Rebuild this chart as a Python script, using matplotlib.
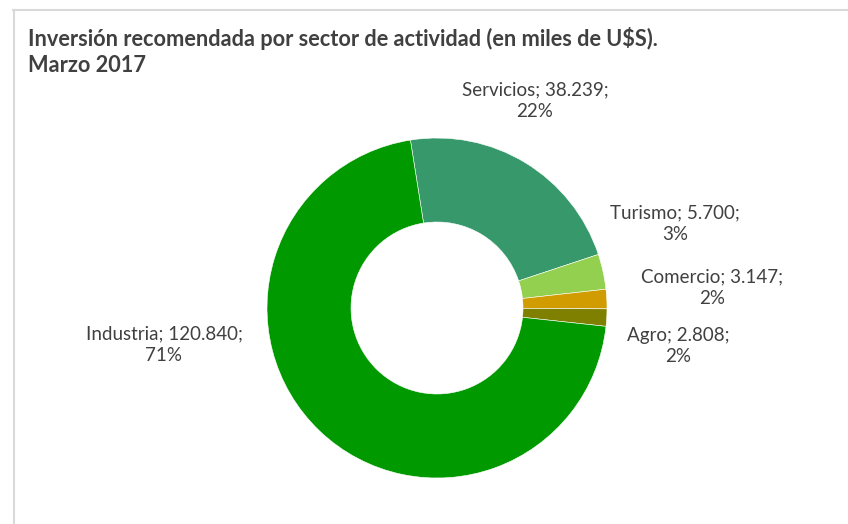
import matplotlib
matplotlib.use("Agg")
import matplotlib.pyplot as plt
from matplotlib.lines import Line2D

# data (miles de U$S), in drawing order clockwise from the top
sectores = ["Servicios", "Turismo", "Comercio", "Agro", "Industria"]
valores = [38239, 5700, 3147, 2808, 120840]
colores = ["#37996B", "#94D050", "#D09C00", "#808000", "#009900"]

titulo = "Inversión recomendada por sector de actividad (en miles de U$S).\nMarzo 2017"

# label centers in pixel coords (top-left origin)
pos_etiquetas = {
    "Servicios": (535, 101),
    "Turismo": (675, 224),
    "Comercio": (712, 288),
    "Agro": (678, 346),
    "Industria": (164, 345),
}

W, H = 848, 524
plt.rcParams['font.family'] = ['Lato', 'DejaVu Sans']

fig = plt.figure(figsize=(W / 100, H / 100), dpi=100)
ax = fig.add_axes([0, 0, 1, 1])

cx, cy, R = 437, 308, 170
ax.pie(valores, colors=colores, startangle=99, counterclock=False,
       radius=R, center=(cx, H - cy),
       wedgeprops=dict(width=R - 86, linewidth=0.4, edgecolor="white"))

ax.set_xlim(0, W)
ax.set_ylim(0, H)
ax.set_aspect("equal")
ax.axis("off")

total = sum(valores)
for s, v in zip(sectores, valores):
    x, y = pos_etiquetas[s]
    txt = f"{s}; {v:,};".replace(",", ".") + f"\n{round(v / total * 100)}%"
    ax.text(x, H - y, txt, ha="center", va="center", fontsize=13.5,
            color="#404040", linespacing=1.35)

ax.text(28, H - 27, titulo, ha="left", va="top", fontsize=15.7,
        fontweight="bold", color="#404040", linespacing=1.3)

# chart area border (top and left visible)
fig.add_artist(Line2D([13 / W, 1], [1 - 9.5 / H, 1 - 9.5 / H], color="#D9D9D9", lw=1.5))
fig.add_artist(Line2D([13.5 / W, 13.5 / W], [0, 1 - 9.5 / H], color="#D9D9D9", lw=1.5))

fig.savefig("out.png", dpi=100)
